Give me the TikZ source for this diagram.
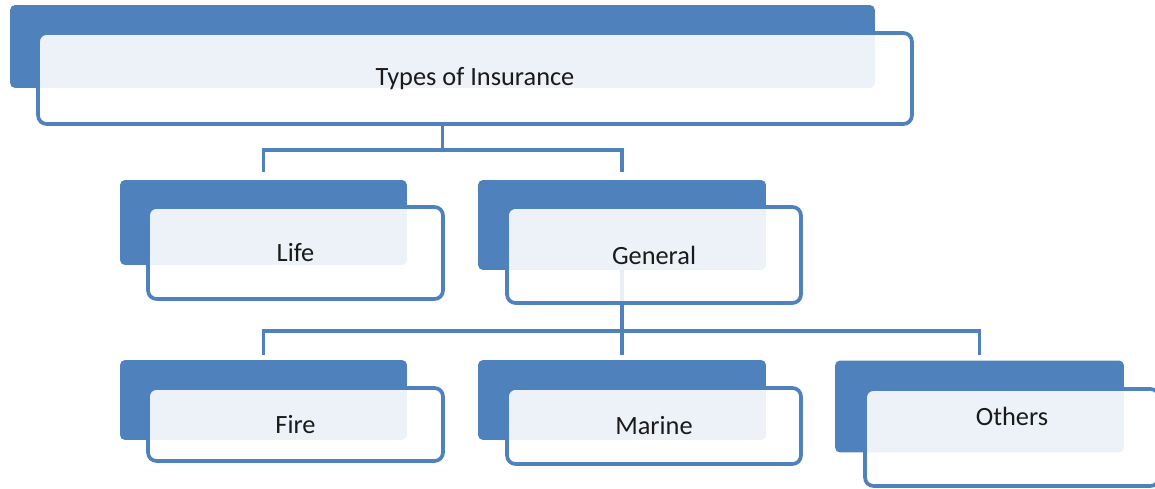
\documentclass[tikz,border=0pt]{standalone}
\usepackage{fontspec}
\setmainfont{Carlito}
\usepackage{tikz}

\definecolor{boxblue}{HTML}{4F81BD}
\definecolor{textgray}{HTML}{1A1A1A}

\begin{document}
\begin{tikzpicture}[x=0.02cm,y=-0.02cm,
  backbox/.style={fill=boxblue, rounded corners=0.1cm, inner sep=0pt},
  frontbox/.style={draw=boxblue, line width=2.1pt, fill=white, fill opacity=0.9,
    text opacity=1, rounded corners=0.17cm, inner sep=0pt, text=textgray,
    font=\fontsize{15}{18}\selectfont},
  conn/.style={draw=boxblue, line width=2.1pt}]
\useasboundingbox (0,0) rectangle (1155,489);
\clip (0,0) rectangle (1155,489);

% Back rectangles
\node[backbox, minimum width=17.3cm, minimum height=1.66cm] (typesB) at (442.5,46.5) {};
\node[backbox, minimum width=5.74cm, minimum height=1.7cm] (lifeB) at (263.5,222.5) {};
\node[backbox, minimum width=5.76cm, minimum height=1.8cm] (generalB) at (622,225) {};
\node[backbox, minimum width=5.74cm, minimum height=1.6cm] (fireB) at (263.5,400) {};
\node[backbox, minimum width=5.76cm, minimum height=1.6cm] (marineB) at (622,400) {};
\node[backbox, minimum width=5.78cm, minimum height=1.84cm] (othersB) at (979.5,406.5) {};

% Front boxes
\node[frontbox, minimum width=17.48cm, minimum height=1.82cm] (typesF) at (475,78.5) {Types of Insurance};
\node[frontbox, minimum width=5.9cm, minimum height=1.84cm] (lifeF) at (295.5,253) {Life};
\node[frontbox, minimum width=5.88cm, minimum height=1.92cm] (generalF) at (654,255) {General};
\node[frontbox, minimum width=5.9cm, minimum height=1.46cm] (fireF) at (295.5,424.5) {Fire};
\node[frontbox, minimum width=5.88cm, minimum height=1.52cm] (marineF) at (654,426) {Marine};
\node[frontbox, minimum width=5.88cm, minimum height=1.94cm] (othersF) at (1012,437.5) {};
\node[text=textgray, font=\fontsize{15}{18}\selectfont] (othersT) at (1012,416) {Others};

% Connectors to Life and General
\draw[conn] (typesB.south |- typesF.south) -- ++(0,24) coordinate (topJoint);
\draw[conn] ([yshift=0.16cm]lifeB.north) |- (topJoint) -| ([yshift=0.16cm]generalB.north);

% Connectors to Fire, Marine and Others
\draw[conn, opacity=0.12] (generalB.south) -- (generalB.south |- generalF.south);
\draw[conn] (generalB.south |- generalF.south) -- ([yshift=0.1cm]marineB.north);
\draw[conn] ([yshift=0.1cm]fireB.north) -- ++(0,-24) -| ([yshift=0.1cm]othersB.north);

\end{tikzpicture}
\end{document}
